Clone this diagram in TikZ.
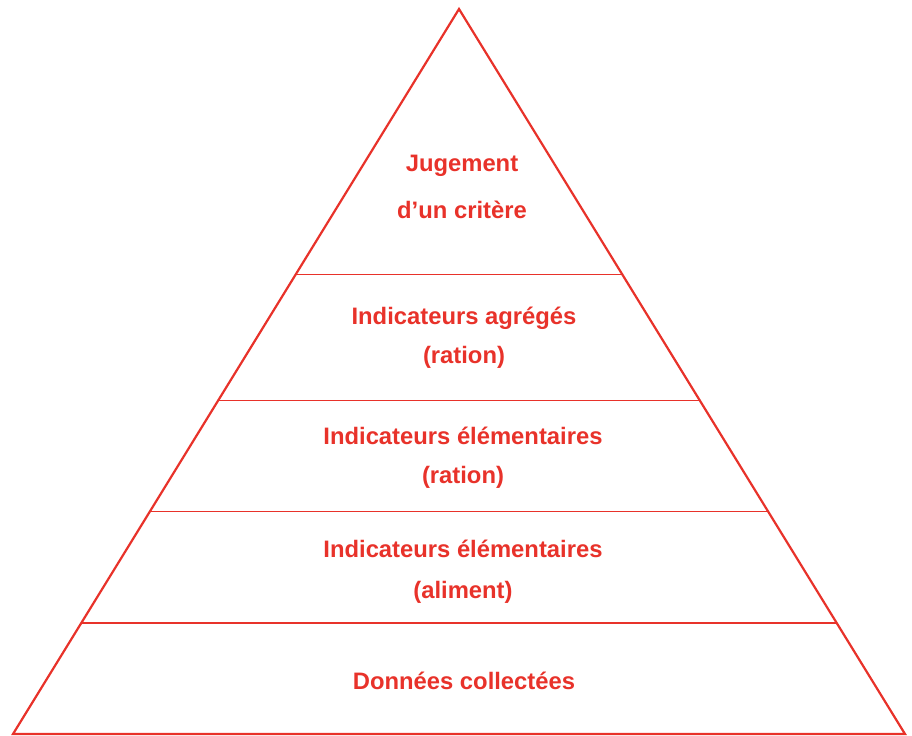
\documentclass[tikz,border=0pt]{standalone}
\usepackage{fontspec}
\setmainfont{Liberation Sans}
\usetikzlibrary{calc}
\definecolor{pyrred}{HTML}{E8322A}
\begin{document}
\begin{tikzpicture}[
     x=0.5pt,y=-0.5pt,
     side/.style={draw=pyrred,line width=1.1pt,line join=miter},
     tier/.style={draw=pyrred,line width=0.6pt},
     lbl/.style={text=pyrred,font=\fontsize{11.9}{19.5}\selectfont\bfseries,align=center}
   ]
   \path[use as bounding box] (0,0) rectangle (912,735);
   % Pyramid.
   \coordinate (apex) at (459,9);
   \coordinate (bl) at (13,734);
   \coordinate (br) at (905,734);
   \draw[side] (bl) -- (apex) -- (br) -- cycle;
   \foreach \t/\n in {0.6336/a,0.460/b,0.307/c,0.153/d}{
     \coordinate (l\n) at ($(bl)!\t!(apex)$);
     \coordinate (r\n) at ($(br)!\t!(apex)$);
     \draw[tier] (l\n) -- (r\n);
   }
   % Labels.
   \node[lbl] (judge) at (462,187) {Jugement\\[4pt]d'un critère};
   \node[lbl] (aggr) at (464,338) {Indicateurs agrégés\\(ration)};
   \node[lbl] (elemr) at (463,458) {Indicateurs élémentaires\\(ration)};
   \node[lbl] (elema) at (463,572) {Indicateurs élémentaires\\[1pt](aliment)};
   \node[lbl] (data) at (464,681) {Données collectées};
 \end{tikzpicture}
\end{document}
